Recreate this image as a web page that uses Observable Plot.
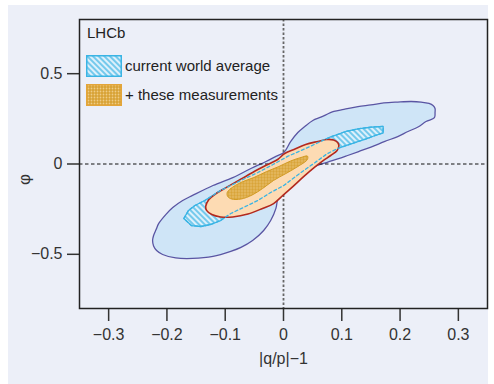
<!DOCTYPE html>
<html><head><meta charset="utf-8">
<script src="https://cdn.jsdelivr.net/npm/d3@7"></script>
<script src="https://cdn.jsdelivr.net/npm/@observablehq/plot@0.6"></script>
<style>
body{margin:0;background:#fff;}
#wrap{position:relative;width:494px;height:384px;font-family:"Liberation Sans",Arial,sans-serif;}
#panel{position:absolute;left:8px;top:5px;width:480px;height:379px;background:#ECEFF8;}
#chart,#legend{position:absolute;left:0;top:0;}
</style></head><body>
<svg width="0" height="0" style="position:absolute">
<defs>
<pattern id="hatch" width="4" height="4" patternUnits="userSpaceOnUse" patternTransform="rotate(45)">
<rect width="4" height="4" fill="#DDF0FB"/>
<line x1="0" y1="2" x2="4" y2="2" stroke="#3AB4E4" stroke-width="1.3"/>
</pattern>
<pattern id="gold" width="3" height="3" patternUnits="userSpaceOnUse">
<rect width="3" height="3" fill="#D8A234"/>
<circle cx="1.5" cy="1.5" r="0.9" fill="#EFCC86"/>
</pattern>
</defs>
</svg>
<div id="wrap"><div id="panel"></div><div id="chart"></div><div id="legend"></div></div>
<script>
const xTicks = [-0.3, -0.2, -0.1, 0, 0.1, 0.2, 0.3];
const yTicks = [-0.5, 0, 0.5];
const xLabel = "|q/p|−1";
const yLabel = "φ";
const experiment = "LHCb";
const seriesNames = ["current world average", "+ these measurements"];

// current world average, outer contour [|q/p|-1, phi]
const worldAvgOuter = [
[-0.2246,-0.424],[-0.2229,-0.396],[-0.2186,-0.363],[-0.214,-0.329],[-0.202,-0.280],[-0.190,-0.241],[-0.173,-0.202],
[-0.156,-0.174],[-0.121,-0.119],[-0.087,-0.075],[-0.056,-0.025],[-0.030,0.014],[-0.013,0.042],
[0.0005,0.064],[0.0125,0.125],[0.0246,0.174],[0.0366,0.208],[0.0503,0.241],[0.064,0.259],
[0.0864,0.291],[0.1036,0.302],[0.1277,0.318],[0.150,0.327],[0.1723,0.338],[0.196,0.343],
[0.219,0.346],[0.236,0.343],[0.2497,0.335],[0.2565,0.324],[0.260,0.307],[0.260,0.285],
[0.259,0.257],[0.2445,0.235],[0.2308,0.205],[0.2136,0.180],[0.196,0.152],[0.174,0.125],
[0.150,0.094],[0.129,0.069],[0.110,0.047],[0.093,0.028],[0.076,0.011],[0.052,-0.014],
[0.030,-0.042],[0.0125,-0.069],[0.002,-0.097],[-0.005,-0.147],[-0.010,-0.191],[-0.013,-0.246],
[-0.022,-0.313],[-0.034,-0.368],[-0.053,-0.424],[-0.073,-0.462],[-0.0905,-0.484],[-0.121,-0.512],
[-0.156,-0.523],[-0.185,-0.520],[-0.2074,-0.501],[-0.2177,-0.479],[-0.2229,-0.454]
];
// current world average, inner (hatched) contour
const worldAvgInner = [
[-0.171,-0.302],[-0.163,-0.257],[-0.152,-0.230],[-0.135,-0.202],[-0.108,-0.147],[-0.073,-0.091],
[-0.044,-0.047],[-0.018,-0.003],[0.007,0.042],[0.038,0.086],[0.064,0.125],[0.081,0.150],
[0.107,0.180],[0.128,0.195],[0.150,0.204],[0.171,0.208],[0.171,0.172],[0.155,0.155],
[0.143,0.140],[0.116,0.112],[0.093,0.086],[0.074,0.055],[0.052,0.003],[0.030,-0.047],
[0.0005,-0.119],[-0.022,-0.158],[-0.044,-0.202],[-0.065,-0.235],[-0.0905,-0.274],[-0.108,-0.313],
[-0.125,-0.335],[-0.142,-0.346],[-0.158,-0.341]
];
// + these measurements, outer contour
const combinedOuter = [
[-0.1335,-0.235],[-0.128,-0.197],[-0.118,-0.169],[-0.104,-0.141],[-0.077,-0.091],[-0.053,-0.047],
[-0.029,-0.006],[-0.010,0.025],[0.002,0.058],[0.018,0.080],[0.038,0.108],[0.059,0.125],
[0.074,0.136],[0.086,0.133],[0.093,0.119],[0.095,0.100],[0.092,0.075],[0.081,0.047],
[0.0675,0.017],[0.052,-0.022],[0.035,-0.069],[0.016,-0.125],[-0.001,-0.174],[-0.017,-0.219],
[-0.036,-0.246],[-0.061,-0.277],[-0.087,-0.293],[-0.108,-0.293],[-0.123,-0.280],[-0.132,-0.257]
];
// + these measurements, inner (cross-hatched) contour
const combinedInner = [
[-0.0966,-0.158],[-0.0905,-0.136],[-0.073,-0.102],[-0.051,-0.075],[-0.029,-0.042],[-0.008,-0.014],
[0.0125,0.017],[0.030,0.036],[0.041,0.044],[0.041,0.025],[0.0246,-0.014],[0.004,-0.053],
[-0.017,-0.091],[-0.036,-0.136],[-0.054,-0.172],[-0.073,-0.194],[-0.089,-0.194],[-0.0957,-0.180]
];

const fmt = d => d < 0 ? "\u2212" + Math.abs(d) : String(d);
const X = d => d[0], Y = d => d[1];

const chart = Plot.plot({
  width: 494, height: 384,
  marginLeft: 79, marginRight: 7, marginTop: 19, marginBottom: 76,
  style: {background: "transparent", fontFamily: "Liberation Sans, Arial, sans-serif", fontSize: "16px", color: "#333"},
  x: {domain: [-0.35, 0.35]},
  y: {domain: [-0.8, 0.8]},
  marks: [
    Plot.line(worldAvgOuter, {x: X, y: Y, curve: "catmull-rom-closed", fill: "#CFE5F7", stroke: "#5A55A3", strokeWidth: 1.3}),
    Plot.ruleX([0], {stroke: "#666", strokeWidth: 1.8, strokeDasharray: "2.5,2"}),
    Plot.ruleY([0], {stroke: "#111", strokeWidth: 1, strokeDasharray: "3.5,2.5"}),
    Plot.line(worldAvgInner, {x: X, y: Y, curve: "linear-closed", fill: "url(#hatch)", stroke: "#3AB4E4", strokeWidth: 1.3}),
    Plot.line(combinedOuter, {x: X, y: Y, curve: "catmull-rom-closed", fill: "#FDDBB3", stroke: "#B3291E", strokeWidth: 1.6}),
    Plot.line(combinedInner, {x: X, y: Y, curve: "catmull-rom-closed", fill: "url(#gold)", stroke: "#D19A22", strokeWidth: 1}),
    Plot.line(worldAvgInner, {x: X, y: Y, curve: "linear-closed", stroke: "#3AB4E4", strokeWidth: 1.3, strokeDasharray: "3,2.5"}),
    Plot.axisX({ticks: xTicks, tickFormat: fmt, tickSize: 13, tickPadding: 7, label: null, strokeWidth: 1.5, fontSize: 16}),
    Plot.axisY({ticks: yTicks, tickFormat: fmt, tickSize: 12, tickPadding: 5, label: null, strokeWidth: 1.5, fontSize: 16}),
    Plot.frame({stroke: "#222", strokeWidth: 1.5}),
    Plot.text([xLabel], {frameAnchor: "bottom", dy: 55, text: d => d, fontSize: 16, fill: "#333"}),
    Plot.text([yLabel], {frameAnchor: "left", dx: -55, dy: 21, rotate: -90, text: d => d, fontSize: 17, fill: "#333"})
  ]
});
document.getElementById("chart").appendChild(chart);

// legend overlay
const lg = d3.select("#legend").append("svg").attr("width", 494).attr("height", 120)
  .style("font-family", "Liberation Sans, Arial, sans-serif").style("font-size", "15px");
lg.append("text").attr("x", 87).attr("y", 38).attr("fill", "#222").text(experiment);
const swatches = [{fill: "url(#hatch)", stroke: "#3AB4E4"}, {fill: "url(#gold)", stroke: "#E3A53A"}];
seriesNames.forEach((name, i) => {
  lg.append("rect").attr("x", 86.75).attr("y", 55.75 + 29 * i).attr("width", 34.5).attr("height", 20.5)
    .attr("fill", swatches[i].fill).attr("stroke", swatches[i].stroke).attr("stroke-width", 1.5);
  lg.append("text").attr("x", 125).attr("y", 71 + 28.5 * i).attr("fill", "#222").text(name);
});
</script>
</body></html>
